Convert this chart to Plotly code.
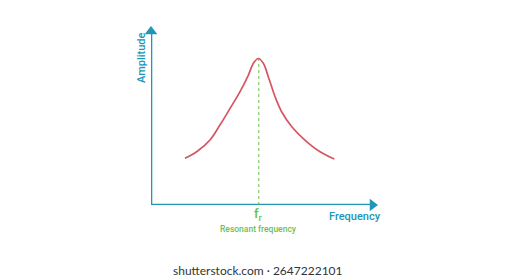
import plotly.graph_objects as go

# Resonance curve (frequency vs amplitude, arbitrary units)
freq = [1.50, 2.02, 2.61, 3.05, 3.50, 3.94, 4.31, 4.53, 4.75, 4.97, 5.19, 5.49, 5.78, 6.23, 6.81, 7.48, 8.11]
amp = [2.62, 2.99, 3.65, 4.49, 5.43, 6.37, 7.30, 7.96, 8.23, 7.96, 7.21, 6.08, 5.24, 4.40, 3.65, 2.99, 2.58]
f_res = 4.77
x_label = "Frequency"
y_label = "Amplitude"
res_label = "Resonant frequency"
watermark = "shutterstock.com · 2647222101"

AX = "#2196b6"
RED = "#d65560"
GREEN = "#6cbf4f"

fig = go.Figure()

# axes with arrowheads
fig.add_trace(go.Scatter(x=[0, 0], y=[0, 9.85], mode="lines", line=dict(color=AX, width=2.6),
                         hoverinfo="skip", cliponaxis=False))
fig.add_trace(go.Scatter(x=[0, 9.85], y=[0, 0], mode="lines", line=dict(color=AX, width=2.6),
                         hoverinfo="skip", cliponaxis=False))
fig.add_trace(go.Scatter(x=[0], y=[9.75], mode="markers",
                         marker=dict(symbol="triangle-up", size=11, color=AX), cliponaxis=False))
fig.add_trace(go.Scatter(x=[9.8], y=[0], mode="markers",
                         marker=dict(symbol="triangle-right", size=11, color=AX), cliponaxis=False))

# dashed resonant line
peak = max(amp)
fig.add_trace(go.Scatter(x=[f_res, f_res], y=[0, peak], mode="lines",
                         line=dict(color=GREEN, width=1, dash="dot"), cliponaxis=False))

# curve
fig.add_trace(go.Scatter(x=freq, y=amp, mode="lines",
                         line=dict(color=RED, width=1.7, shape="spline", smoothing=1.0),
                         cliponaxis=False))

fig.update_layout(
    width=517, height=280, showlegend=False,
    margin=dict(l=151, r=140, t=27, b=75),
    paper_bgcolor="white", plot_bgcolor="white",
    xaxis=dict(range=[0, 10], visible=False, fixedrange=True),
    yaxis=dict(range=[0, 10], visible=False, fixedrange=True),
    annotations=[
        dict(text=y_label, x=(141 - 151) / 226, y=(205 - 58) / 178, xref="paper", yref="paper", textangle=-90,
             showarrow=False, font=dict(family="Roboto", size=11, color=AX, weight=500),
             xanchor="center", yanchor="middle"),
        dict(text=x_label, x=(355 - 151) / 226, y=(205 - 216) / 178, xref="paper", yref="paper", showarrow=False,
             font=dict(family="Roboto", size=11, color=AX, weight=500), xanchor="center", yanchor="middle"),
        dict(text="f<sub>r</sub>", x=f_res, y=(205 - 214) / 178, xref="x", yref="paper", showarrow=False,
             font=dict(family="Roboto", size=13, color=GREEN, weight=500), xanchor="center", yanchor="middle"),
        dict(text=res_label, x=f_res, y=(205 - 229) / 178, xref="x", yref="paper", showarrow=False,
             font=dict(family="Roboto", size=8.5, color=GREEN, weight=500), xanchor="center", yanchor="middle"),
        dict(text=watermark, x=(258 - 151) / 226, y=(205 - 270) / 178, xref="paper", yref="paper",
             showarrow=False, yanchor="middle", xanchor="center",
             font=dict(family="Lato", size=12, color="#333333")),
    ],
)

fig.write_html("out.html")
